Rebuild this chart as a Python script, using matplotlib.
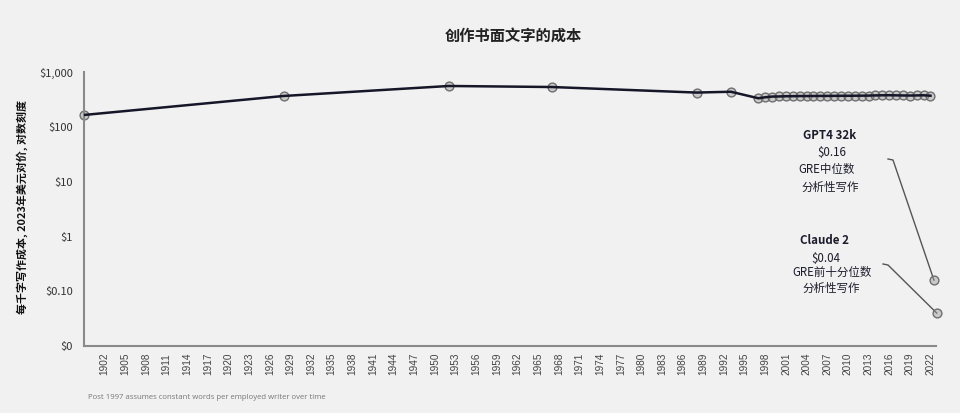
import matplotlib
matplotlib.use("Agg")
import matplotlib.pyplot as plt
import numpy as np

plt.rcParams['font.family'] = ['Noto Sans CJK SC', 'DejaVu Sans']

# ---- data ----
years = [1899, 1928, 1952, 1967, 1988, 1993,
         1997, 1998, 1999, 2000, 2001, 2002, 2003, 2004, 2005, 2006,
         2007, 2008, 2009, 2010, 2011, 2012, 2013, 2014, 2015, 2016,
         2017, 2018, 2019, 2020, 2021, 2022]
cost = [166, 369, 562, 538, 426, 441,
        335, 350, 360, 362, 365, 366, 368, 368, 369, 370,
        370, 371, 372, 372, 373, 374, 375, 378, 380, 381,
        379, 377, 376, 378, 380, 373]

llm_names = ["GPT4 32k", "Claude 2"]
llm_years = [2022.5, 2022.9]
llm_cost = [0.16, 0.04]
llm_price_labels = ["$0.16", "$0.04"]
llm_desc = [["GRE中位数", "分析性写作"], ["GRE前十分位数", "分析性写作"]]

ytick_vals = [0.01, 0.1, 1, 10, 100, 1000]
ytick_labels = ["$0", "$0.10", "$1", "$10", "$100", "$1,000"]
xtick_years = list(range(1902, 2023, 3))

title = "创作书面文字的成本"
ylabel = "每千字写作成本, 2023年美元对价, 对数刻度"
footnote = "Post 1997 assumes constant words per employed writer over time"

# ---- styling ----
W, H = 960, 413
bg = "#f1f1f1"
fig = plt.figure(figsize=(9.6, 4.13), dpi=100, facecolor=bg)
ax = fig.add_axes([0.0875, 0.1622, 0.8875, 0.6628], facecolor=bg)

ax.set_yscale("log")
ax.set_ylim(0.01, 1000)
ax.set_xlim(1899, 2022.8)

ax.plot(years, cost, color="#161629", lw=1.8, zorder=3, solid_joinstyle="round")
ax.scatter(years, cost, s=40, facecolor=(0.6, 0.6, 0.6, 0.45),
           edgecolor="#6f6f6f", linewidth=1.0, zorder=2, clip_on=False)
ax.scatter(llm_years, llm_cost, s=40, facecolor=(0.6, 0.6, 0.6, 0.45),
           edgecolor="#6f6f6f", linewidth=1.0, zorder=4, clip_on=False)

ax.set_yticks(ytick_vals)
ax.set_yticklabels(ytick_labels)
ax.yaxis.set_minor_locator(matplotlib.ticker.NullLocator())
ax.set_xticks(xtick_years)
ax.set_xticklabels([str(y) for y in xtick_years], rotation=90,
                   family="Liberation Sans")
ax.tick_params(axis="x", length=0, labelsize=7.2, colors="#444444", pad=5)
ax.tick_params(axis="y", length=0, labelsize=8, colors="#333333", pad=8)

for s in ["top", "right"]:
    ax.spines[s].set_visible(False)
for s in ["left", "bottom"]:
    ax.spines[s].set_color("#8a8a8a")
    ax.spines[s].set_linewidth(1.5)

fig.text(0.535, 0.914, title, ha="center", va="center",
         fontsize=11, fontweight="bold", color="#222222")
fig.text(0.023, 0.499, ylabel, ha="center", va="center", rotation=90,
         fontsize=7.9, fontweight="bold", color="#111111")
fig.text(0.092, 0.038, footnote, ha="left", va="center",
         fontsize=5.6, color="#777777", family="Open Sans")


def fp(x, y):
    """figure fraction from pixel position measured from top-left"""
    return x / W, 1 - y / H


# annotation text blocks (pixel layout)
blocks = [
    [(830, 135, llm_names[0], "bold"), (832, 153, llm_price_labels[0], "normal"),
     (827, 169, llm_desc[0][0], "normal"), (830, 187, llm_desc[0][1], "normal")],
    [(824, 241, llm_names[1], "bold"), (826, 258, llm_price_labels[1], "normal"),
     (832, 272, llm_desc[1][0], "normal"), (831, 288, llm_desc[1][1], "normal")],
]
for blk in blocks:
    for (px, py, txt, wt) in blk:
        x, y = fp(px, py)
        fig.text(x, y, txt, ha="center", va="center", fontsize=8.3,
                 fontweight=wt, color="#1c1c2c")

# connectors: start near text, end at the LLM point
conn_start = [((888, 159), (893, 160)), ((883, 264), (888, 265))]
fig.canvas.draw()
inv = ax.transData.inverted()
for i in range(2):
    pts = []
    for (px, py) in conn_start[i]:
        pts.append(inv.transform((px, H - py)))
    xs = [p[0] for p in pts] + [llm_years[i]]
    ys = [p[1] for p in pts] + [llm_cost[i]]
    ax.plot(xs, ys, color="#555555", lw=1.0, zorder=3, clip_on=False)

fig.savefig("out.png", dpi=100, facecolor=bg)
